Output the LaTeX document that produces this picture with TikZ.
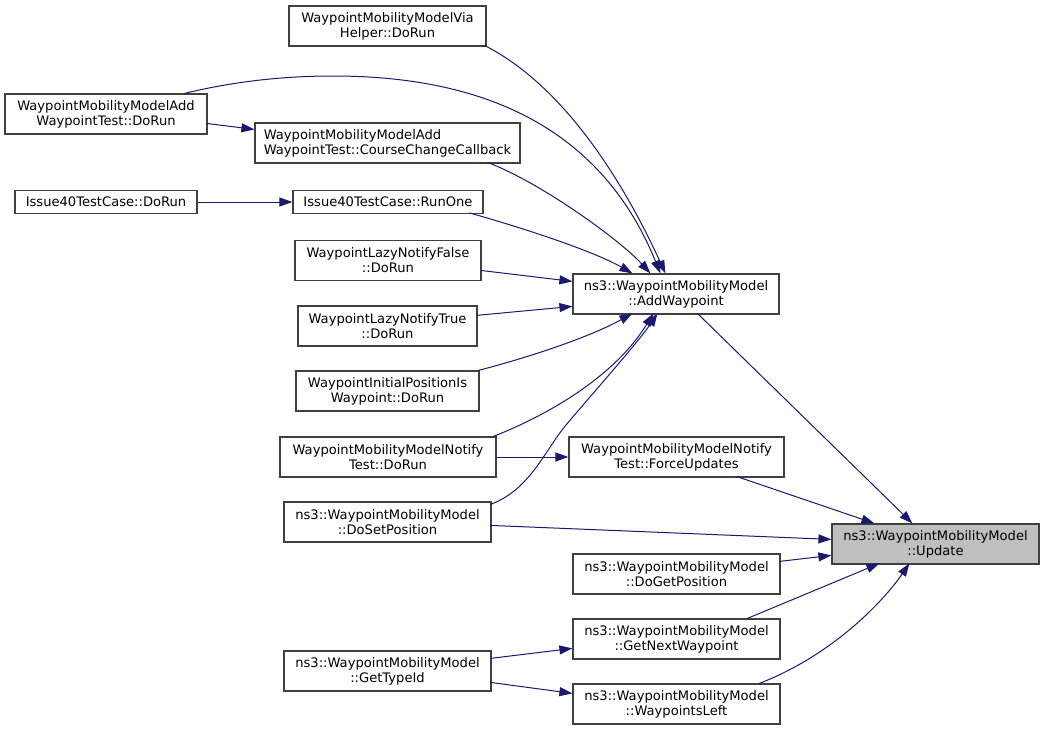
\documentclass[tikz,border=0pt]{standalone}
\usepackage{fontspec}
\setmainfont{DejaVu Sans}
\usetikzlibrary{arrows.meta}
\definecolor{edgec}{HTML}{191970}
\definecolor{bord}{HTML}{404040}
\definecolor{hl}{HTML}{BFBFBF}
\tikzset{
  box/.style={draw=bord, line width=1.2pt, fill=white, inner sep=0pt, align=center,
    font=\fontsize{13.1}{15}\selectfont, minimum height=40pt},
  call/.style={draw=edgec, line width=1pt, -{Triangle[length=13pt,width=9pt]}}
}
\begin{document}
\begin{tikzpicture}[x=1pt,y=-1pt]
\useasboundingbox[fill=white] (0,0) rectangle (1044,731);
% nodes
\node[box,minimum width=197pt] (via) at (387.5,26) {WaypointMobilityModelVia\\Helper::DoRun};
\node[box,minimum width=202pt] (awt) at (106,114) {WaypointMobilityModelAdd\\WaypointTest::DoRun};
\node[box,minimum width=265pt,align=left] (ccc) at (387.5,143) {WaypointMobilityModelAdd\\WaypointTest::CourseChangeCallback};
\node[box,minimum width=182pt,minimum height=23pt] (i40d) at (106,202) {Issue40TestCase::DoRun};
\node[box,minimum width=190pt,minimum height=23pt] (i40r) at (388,202) {Issue40TestCase::RunOne};
\node[box,minimum width=186pt] (lnf) at (388,260.5) {WaypointLazyNotifyFalse\\::DoRun};
\node[box,minimum width=179pt] (lnt) at (387.5,326) {WaypointLazyNotifyTrue\\::DoRun};
\node[box,minimum width=183pt] (ipi) at (387.5,391) {WaypointInitialPositionIs\\Waypoint::DoRun};
\node[box,minimum width=216pt] (ndr) at (388,457) {WaypointMobilityModelNotify\\Test::DoRun};
\node[box,minimum width=215pt] (fu) at (676.5,457) {WaypointMobilityModelNotify\\Test::ForceUpdates};
\node[box,minimum width=207pt] (dsp) at (387.5,522) {ns3::WaypointMobilityModel\\::DoSetPosition};
\node[box,minimum width=206pt] (add) at (676,294) {ns3::WaypointMobilityModel\\::AddWaypoint};
\node[box,minimum width=207pt,fill=hl] (upd) at (935.5,544) {ns3::WaypointMobilityModel\\::Update};
\node[box,minimum width=207pt] (dgp) at (676.5,574) {ns3::WaypointMobilityModel\\::DoGetPosition};
\node[box,minimum width=207pt] (gnw) at (676.5,639) {ns3::WaypointMobilityModel\\::GetNextWaypoint};
\node[box,minimum width=207pt] (gti) at (387.5,671) {ns3::WaypointMobilityModel\\::GetTypeId};
\node[box,minimum width=207pt] (wl) at (676.5,704) {ns3::WaypointMobilityModel\\::WaypointsLeft};
% edges into AddWaypoint
\draw[call] ([shift={(196,40)}]via.north west) .. controls (565,86) and (625,185) .. ([shift={(93,0)}]add.north west);
\draw[call] ([shift={(180,0)}]awt.north west) .. controls (240,80) and (290,76) .. (333,76)
   .. controls (480,76) and (600,125) .. ([shift={(88,0)}]add.north west);
\draw[call] ([shift={(233,40)}]ccc.north west) .. controls (540,182) and (620,240) .. ([shift={(78,0)}]add.north west);
\draw[call] ([shift={(177,23)}]i40r.north west) .. controls (530,230) and (595,252) .. ([shift={(60,0)}]add.north west);
\draw[call] ([shift={(186,30.5)}]lnf.north west) -- ([shift={(0,8)}]add.north west);
\draw[call] ([shift={(179,10)}]lnt.north west) -- ([shift={(0,33)}]add.north west);
\draw[call] ([shift={(183,0)}]ipi.north west) .. controls (530,357) and (590,337) .. ([shift={(60,40)}]add.north west);
\draw[call] ([shift={(214,0)}]ndr.north west) .. controls (543,417) and (613,379) .. ([shift={(81,40)}]add.north west);
\draw[call] ([shift={(207,3)}]dsp.north west) .. controls (530,490) and (545,450) .. (566,425)
   .. controls (587,400) and (640,340) .. ([shift={(85,40)}]add.north west);
% other callers
\draw[call] ([shift={(202,30)}]awt.north west) -- ([shift={(0,7)}]ccc.north west);
\draw[call] (i40d.east) -- (i40r.west);
\draw[call] (ndr.east) -- (fu.west);
% edges into Update
\draw[call] ([shift={(125,40)}]add.north west) -- ([shift={(81,0)}]upd.north west);
\draw[call] ([shift={(168,40)}]fu.north west) -- ([shift={(43,0)}]upd.north west);
\draw[call] ([shift={(207,24)}]dsp.north west) -- ([shift={(0,16)}]upd.north west);
\draw[call] ([shift={(207,8)}]dgp.north west) -- ([shift={(0,32)}]upd.north west);
\draw[call] ([shift={(175,0)}]gnw.north west) -- ([shift={(48,40)}]upd.north west);
\draw[call] ([shift={(187,0)}]wl.north west) .. controls (835,654) and (885,599) .. ([shift={(78,40)}]upd.north west);
\draw[call] ([shift={(207,8)}]gti.north west) -- ([shift={(0,30)}]gnw.north west);
\draw[call] ([shift={(207,32)}]gti.north west) -- ([shift={(0,10)}]wl.north west);
\end{tikzpicture}
\end{document}
